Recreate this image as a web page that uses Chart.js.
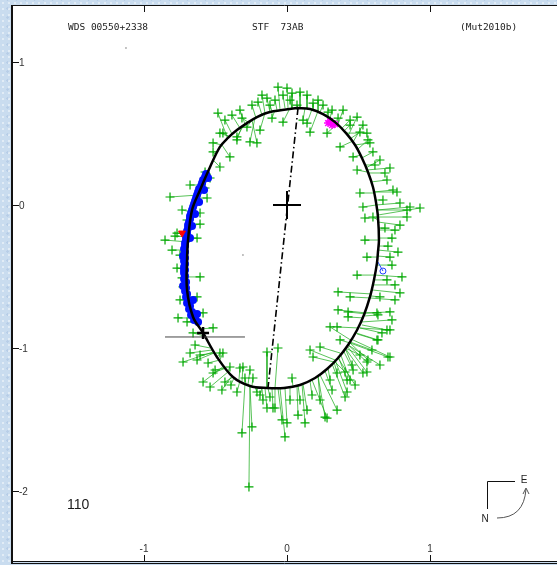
<!DOCTYPE html>
<html>
<head>
<meta charset="utf-8">
<title>STF 73AB orbit</title>
<script src="https://cdn.jsdelivr.net/npm/chart.js@4.4.0/dist/chart.umd.min.js"></script>
<style>
html, body { margin: 0; padding: 0; }
body {
    width: 557px; height: 565px; overflow: hidden;
    background-color: #c9dcef;
    background-image: radial-gradient(rgba(255,255,255,0.45) 1px, transparent 1.5px),
                      radial-gradient(rgba(150,180,215,0.35) 1px, transparent 1.5px);
    background-size: 6px 6px, 9px 9px;
    background-position: 0 0, 3px 4px;
}
#wrap { position: relative; width: 557px; height: 565px; }
</style>
</head>
<body>
<div id="wrap"><canvas id="orbit-chart" width="557" height="565"></canvas></div>
<script>
// tick values (arcsec)
var xTicks = [-1, 0, 1];
var yTicks = [1, 0, -1, -2];

// fitted orbit
var orbitX = [0.070, 0.161, 0.252, 0.336, 0.413, 0.476, 0.524, 0.566, 0.601, 0.622, 0.636, 0.643, 0.636, 0.629,
              0.608, 0.580, 0.538, 0.490, 0.427, 0.357, 0.280, 0.196, 0.091, -0.021, -0.140, -0.259, -0.378,
              -0.490, -0.587, -0.657, -0.699, -0.699, -0.692, -0.664, -0.608, -0.538, -0.469, -0.413, -0.350,
              -0.280, -0.210, -0.119, 0.070];
var orbitY = [0.678, 0.671, 0.636, 0.580, 0.503, 0.420, 0.329, 0.231, 0.126, 0.021, -0.084, -0.245, -0.329, -0.406,
              -0.524, -0.643, -0.769, -0.874, -0.979, -1.070, -1.147, -1.210, -1.259, -1.280, -1.280, -1.266, -1.203,
              -1.063, -0.895, -0.783, -0.594, -0.385, -0.245, -0.035, 0.105, 0.266, 0.406, 0.469, 0.524,
              0.573, 0.615, 0.650, 0.678];

// micrometer observations (green) and where they fall on the orbit
var obsX = [-0.483, -0.385, -0.315, -0.203, -0.140, -0.063, -0.028, 0.035, 0.091, 0.140,
            0.182, 0.252, 0.315, 0.392, 0.490, 0.531, 0.566, 0.601, 0.650, 0.699,
            0.741, 0.790, 0.860, 0.930, 0.790, 0.601, 0.531, 0.510, 0.490, 0.462,
            0.371, 0.280, 0.161, 0.140, -0.028, -0.105, -0.189, -0.259, -0.350, -0.448,
            -0.517, -0.469, -0.399, -0.210, -0.280,
            -0.517, -0.469, -0.350, -0.538, -0.573, -0.818, -0.559, -0.734, -0.608, -0.699,
            -0.608, -0.769, -0.853, -0.783, -0.629, -0.748, -0.769, -0.734, -0.608, -0.727,
            -0.629, -0.587, -0.762, -0.699, -0.517, -0.657, -0.678, -0.727, -0.629, -0.608,
            -0.469, -0.552, -0.517, -0.587, -0.538, -0.455, -0.434, -0.329, -0.259, -0.238,
            -0.350, -0.140, -0.448, -0.399, -0.308,
            -0.063, -0.210, -0.119, -0.168, -0.098, -0.140, -0.035, -0.014, 0.000, -0.315,
            -0.245, -0.266, 0.035,
            0.091, 0.140, 0.231,
            0.280, 0.301, 0.350, 0.350, 0.406, 0.420, 0.462, 0.531, 0.559, 0.720,
            0.629, 0.699, 0.301, 0.371, 0.231, 0.161, 0.182, -0.084,
            0.126, 0.077, 0.266, 0.420,
            0.790, 0.720, 0.664, 0.706, 0.566, 0.559,
            0.455, 0.441, 0.650, 0.441, 0.629,
            0.427, 0.699, 0.559, 0.580, 0.685,
            0.769, 0.671, 0.839, 0.839, 0.685, 0.545,
            0.734, 0.776, 0.720,
            0.559, 0.490, 0.804, 0.755, 0.357,
            0.357, 0.427, 0.636, 0.350, 0.441, 0.021, -0.119, 0.217, -0.573,
            -0.434, -0.329, -0.245, -0.175, -0.084, 0.000, 0.070, 0.112, 0.287, 0.357,
            0.441, 0.510, 0.615, 0.720,
            0.755, 0.720, 0.734, 0.636, 0.594, 0.510, 0.650, 0.476, 0.406, 0.315,
            0.175, 0.021, -0.189, -0.294, -0.392, -0.503, -0.643, -0.748, -0.804, -0.678,
            0.755, 0.706, 0.545, 0.734];
var obsY = [0.643, 0.629, 0.608, 0.720, 0.748, 0.825, 0.769, 0.783, 0.790, 0.769,
            0.713, 0.699, 0.664, 0.664, 0.615, 0.559, 0.455, 0.371, 0.315, 0.175,
            0.105, 0.014, -0.014, -0.021, -0.140, -0.084, -0.014, 0.084, 0.245, 0.336,
            0.406, 0.503, 0.510, 0.573, 0.580, 0.608, 0.524, 0.441, 0.476, 0.503,
            0.434, 0.266, 0.336, 0.434, 0.545,
            0.371, 0.503, 0.455, 0.189, 0.119, 0.056, 0.049, -0.035, -0.056, -0.105,
            -0.133, -0.196, -0.245, -0.217, -0.231, -0.350, -0.441, -0.510, -0.503, -0.573,
            -0.643, -0.755, -0.790, -0.818, -0.860, -0.895, -1.035, -1.098, -1.084, -1.049,
            -1.035, -1.105, -1.175, -1.238, -1.273, -1.294, -1.238, -1.140, -1.154, -1.210,
            -1.308, -1.028, -1.035, -1.133, -1.133,
            -1.000, -1.308, -1.343, -1.364, -1.420, -1.420, -1.503, -1.622, -1.524, -1.594,
            -1.552, -1.972, -1.210,
            -1.364, -1.434, -1.364,
            -1.490, -1.224, -1.175, -1.434, -1.343, -1.224, -1.154, -1.175, -1.098, -1.063,
            -0.944, -0.874, -0.853, -0.944, -0.993, -1.014, -1.063, -1.420,
            -1.524, -1.469, -1.483, -1.308,
            -0.615, -0.874, -0.895, -1.063, -1.084, -1.168,
            -1.119, -1.224, -0.643, -0.643, -0.755,
            -0.748, -0.524, 0.503, 0.434, 0.224,
            0.091, 0.035, -0.035, -0.084, -0.161, -0.091,
            -0.231, -0.329, -0.364,
            -0.364, -0.490, -0.503, -0.559, -0.608,
            -0.734, -0.783, -0.769, -0.853, 0.594, 0.734, 0.699, 0.734, 0.231,
            0.594, 0.664, 0.699, 0.769, 0.734, 0.818, 0.699, 0.594, 0.650, 0.608,
            0.559, 0.510, 0.280, 0.259,
            -0.664, -0.748, -0.804, -0.944, -1.014, -1.049, -1.119, -1.259, -1.168, -1.294,
            -1.329, -1.364, -1.329, -1.210, -1.259, -1.154, -0.979, -0.664, -0.315, 0.140,
            -0.175, -0.287, -0.245, -0.420];
var fitX = [-0.413, -0.329, -0.273, -0.175, -0.119, -0.049, -0.014, 0.035, 0.091, 0.140,
            0.182, 0.231, 0.301, 0.357, 0.427, 0.462, 0.497, 0.524, 0.552, 0.587,
            0.608, 0.622, 0.629, 0.636, 0.636, 0.636, 0.622, 0.608, 0.559, 0.517,
            0.462, 0.350, 0.217, 0.175, 0.021, -0.084, -0.154, -0.224, -0.294, -0.399,
            -0.455, -0.517, -0.455, -0.245, -0.245,
            -0.497, -0.399, -0.315, -0.559, -0.601, -0.622, -0.629, -0.664, -0.671, -0.678,
            -0.678, -0.692, -0.692, -0.692, -0.692, -0.699, -0.699, -0.699, -0.699, -0.699,
            -0.692, -0.671, -0.657, -0.643, -0.608, -0.580, -0.524, -0.517, -0.510, -0.510,
            -0.483, -0.469, -0.427, -0.441, -0.413, -0.385, -0.378, -0.336, -0.273, -0.245,
            -0.329, -0.140, -0.469, -0.413, -0.315,
            -0.084, -0.224, -0.133, -0.175, -0.105, -0.154, -0.063, -0.049, -0.014, -0.294,
            -0.259, -0.259, 0.042,
            0.077, 0.112, 0.217,
            0.175, 0.287, 0.329, 0.231, 0.315, 0.357, 0.392, 0.406, 0.427, 0.462,
            0.490, 0.524, 0.455, 0.441, 0.371, 0.336, 0.329, -0.084,
            0.105, 0.070, 0.217, 0.336,
            0.594, 0.510, 0.510, 0.441, 0.441, 0.420,
            0.406, 0.371, 0.587, 0.580, 0.552,
            0.552, 0.608, 0.413, 0.476, 0.566,
            0.608, 0.615, 0.629, 0.636, 0.636, 0.636,
            0.643, 0.636, 0.636,
            0.636, 0.615, 0.615, 0.601, 0.587,
            0.552, 0.538, 0.545, 0.497, 0.385, 0.035, -0.105, 0.217, -0.552,
            -0.385, -0.294, -0.217, -0.154, -0.070, 0.007, 0.077, 0.126, 0.273, 0.336,
            0.399, 0.441, 0.545, 0.559,
            0.580, 0.552, 0.524, 0.483, 0.441, 0.406, 0.427, 0.357, 0.336, 0.266,
            0.161, 0.021, -0.175, -0.287, -0.371, -0.434, -0.538, -0.692, -0.699, -0.594,
            0.643, 0.643, 0.643, 0.629];
var fitY = [0.462, 0.538, 0.580, 0.629, 0.650, 0.671, 0.678, 0.678, 0.678, 0.678,
            0.671, 0.650, 0.608, 0.566, 0.483, 0.441, 0.392, 0.329, 0.259, 0.161,
            0.091, 0.000, -0.035, -0.070, -0.119, -0.105, 0.000, 0.084, 0.231, 0.350,
            0.448, 0.566, 0.657, 0.671, 0.678, 0.664, 0.643, 0.608, 0.573, 0.476,
            0.420, 0.315, 0.420, 0.594, 0.594,
            0.350, 0.476, 0.552, 0.210, 0.119, 0.070, 0.049, -0.049, -0.070, -0.119,
            -0.147, -0.210, -0.259, -0.224, -0.231, -0.364, -0.455, -0.524, -0.503, -0.580,
            -0.643, -0.748, -0.790, -0.818, -0.867, -0.916, -1.014, -1.028, -1.035, -1.035,
            -1.056, -1.084, -1.140, -1.126, -1.168, -1.196, -1.203, -1.224, -1.259, -1.266,
            -1.231, -1.280, -1.084, -1.161, -1.238,
            -1.280, -1.273, -1.280, -1.280, -1.280, -1.280, -1.280, -1.280, -1.280, -1.252,
            -1.266, -1.266, -1.273,
            -1.259, -1.252, -1.196,
            -1.224, -1.140, -1.098, -1.189, -1.112, -1.056, -1.014, -1.000, -0.979, -0.944,
            -0.902, -0.839, -0.951, -0.965, -1.035, -1.084, -1.098, -1.280,
            -1.252, -1.266, -1.196, -1.084,
            -0.594, -0.860, -0.860, -0.965, -0.965, -0.986,
            -1.000, -1.035, -0.636, -0.650, -0.755,
            -0.762, -0.524, 0.503, 0.420, 0.224,
            0.091, 0.035, -0.035, -0.084, -0.161, -0.091,
            -0.231, -0.315, -0.357,
            -0.364, -0.490, -0.490, -0.559, -0.622,
            -0.755, -0.790, -0.776, -0.860, 0.538, 0.678, 0.657, 0.657, 0.231,
            0.497, 0.566, 0.608, 0.643, 0.664, 0.678, 0.678, 0.678, 0.622, 0.580,
            0.517, 0.462, 0.280, 0.245,
            -0.650, -0.755, -0.818, -0.895, -0.958, -1.000, -0.979, -1.070, -1.098, -1.161,
            -1.231, -1.280, -1.280, -1.252, -1.210, -1.140, -1.000, -0.664, -0.315, 0.140,
            -0.175, -0.287, -0.245, -0.420];

// interferometric measures (blue)
var speckleX = [-0.566, -0.587, -0.601, -0.622, -0.636, -0.650, -0.664, -0.678, -0.685, -0.692, -0.699, -0.706, -0.713,
                -0.713, -0.713, -0.713, -0.713, -0.713, -0.706, -0.706, -0.699, -0.692, -0.678, -0.664, -0.643, -0.622,
                -0.552, -0.580, -0.615, -0.643, -0.664, -0.678, -0.727, -0.727, -0.720, -0.657, -0.629,
                -0.573, -0.594, -0.615, -0.629, -0.643, -0.657, -0.671, -0.678, -0.692, -0.699, -0.706, -0.713, -0.720,
                -0.720, -0.720, -0.720, -0.720, -0.720, -0.713, -0.713, -0.706, -0.699, -0.685, -0.671, -0.650];
var speckleY = [0.217, 0.175, 0.133, 0.091, 0.049, 0.007, -0.035, -0.077, -0.119, -0.161, -0.203, -0.245, -0.287,
                -0.329, -0.371, -0.413, -0.455, -0.497, -0.538, -0.580, -0.622, -0.664, -0.706, -0.748, -0.790, -0.818,
                0.189, 0.105, 0.021, -0.063, -0.147, -0.231, -0.357, -0.566, -0.455, -0.664, -0.762,
                0.196, 0.154, 0.112, 0.070, 0.028, -0.014, -0.056, -0.098, -0.140, -0.182, -0.224, -0.266, -0.308,
                -0.350, -0.392, -0.434, -0.476, -0.517, -0.559, -0.601, -0.643, -0.685, -0.727, -0.769, -0.804];

// other measure types
var redX = [-0.734], redY = [-0.196];
var pinkX = [0.287, 0.315, 0.301, 0.336], pinkY = [0.573, 0.559, 0.587, 0.566];
var ringX = [0.671], ringY = [-0.462];
var ringFitX = [0.636], ringFitY = [-0.399];

// primary, periastron, line of apsides
var primaryX = [0], primaryY = [0];
var periX = [-0.587], periY = [-0.895];
var periBarX = [-0.853, -0.294], periBarY = [-0.923, -0.923];
var apsX = [0.077, -0.133], apsY = [0.678, -1.280];
var dotX = [-1.126, -0.308], dotY = [1.098, -0.350];

function pts(xs, ys) {
    return xs.map(function (x, i) { return { x: x, y: ys[i] }; });
}

var residuals = [];
for (var i = 0; i < Math.min(obsX.length, fitX.length); i++) {
    residuals.push({ x: obsX[i], y: obsY[i] });
    residuals.push({ x: fitX[i], y: fitY[i] });
    residuals.push({ x: NaN, y: NaN });
}
var ringLine = pts(ringX, ringY).concat(pts(ringFitX, ringFitY));

var framePlugin = {
    id: 'frame',
    beforeDraw: function (chart) {
        var ctx = chart.ctx, a = chart.chartArea;
        ctx.save();
        ctx.fillStyle = '#ffffff';
        ctx.fillRect(a.left, a.top, a.right - a.left, a.bottom - a.top);
        ctx.restore();
    },
    afterDraw: function (chart) {
        var ctx = chart.ctx;
        var xs = chart.scales.x, ys = chart.scales.y;
        ctx.save();
        ctx.strokeStyle = '#111';
        ctx.fillStyle = '#333';

        // frame
        ctx.beginPath();
        ctx.lineWidth = 2;
        ctx.moveTo(12, 5); ctx.lineTo(12, 564);
        ctx.stroke();
        ctx.lineWidth = 1;
        ctx.beginPath();
        ctx.moveTo(12, 5.5); ctx.lineTo(557, 5.5);
        ctx.moveTo(12, 561.5); ctx.lineTo(557, 561.5);
        ctx.moveTo(12, 563.5); ctx.lineTo(557, 563.5);
        ctx.stroke();

        // ticks
        ctx.font = '10px "Liberation Sans", Arial, sans-serif';
        ctx.beginPath();
        yTicks.forEach(function (v) {
            var p = Math.round(ys.getPixelForValue(v)) + 0.5;
            ctx.moveTo(13, p); ctx.lineTo(19, p);
        });
        xTicks.forEach(function (v) {
            var p = Math.round(xs.getPixelForValue(v)) + 0.5;
            ctx.moveTo(p, 6); ctx.lineTo(p, 12);
            ctx.moveTo(p, 561); ctx.lineTo(p, 555);
        });
        ctx.stroke();
        ctx.textBaseline = 'middle';
        ctx.textAlign = 'left';
        yTicks.forEach(function (v) {
            ctx.fillText(String(v), 19, ys.getPixelForValue(v) + 1);
        });
        ctx.textAlign = 'center';
        xTicks.forEach(function (v) {
            ctx.fillText(String(v), xs.getPixelForValue(v), 549);
        });

        // header
        ctx.fillStyle = '#222';
        ctx.font = '9.5px "DejaVu Sans Mono", monospace';
        ctx.textAlign = 'left';
        ctx.fillText('WDS 00550+2338', 68, 28);
        ctx.fillText('STF  73AB', 252, 28);
        ctx.fillText('(Mut2010b)', 460, 28);

        ctx.font = '14px "Liberation Sans", Arial, sans-serif';
        ctx.fillStyle = '#1a1a1a';
        ctx.fillText('110', 67, 505);

        // compass
        ctx.strokeStyle = '#111';
        ctx.beginPath();
        ctx.moveTo(487.5, 481.5); ctx.lineTo(515, 481.5);
        ctx.moveTo(487.5, 481.5); ctx.lineTo(487.5, 509);
        ctx.stroke();
        ctx.font = '10px "Liberation Sans", Arial, sans-serif';
        ctx.textAlign = 'center';
        ctx.fillStyle = '#222';
        ctx.fillText('E', 524, 480);
        ctx.fillText('N', 485, 519);
        ctx.strokeStyle = '#555';
        ctx.beginPath();
        ctx.moveTo(497, 518);
        ctx.quadraticCurveTo(524, 518, 526, 489);
        ctx.moveTo(523, 494); ctx.lineTo(526, 488); ctx.lineTo(529, 494);
        ctx.stroke();
        ctx.restore();
    }
};

new Chart(document.getElementById('orbit-chart'), {
    type: 'scatter',
    data: {
        datasets: [
            { data: pts(primaryX, primaryY), pointStyle: 'cross', pointRadius: 14, borderColor: '#000', borderWidth: 2 },
            { data: pts(periX, periY), pointStyle: 'cross', pointRadius: 6, borderColor: '#000', borderWidth: 2.5 },
            { data: pts(periBarX, periBarY), showLine: true, pointRadius: 0, borderColor: '#444', borderWidth: 1 },
            { data: pts(apsX, apsY), showLine: true, pointRadius: 0, borderColor: '#000', borderWidth: 1.6, borderDash: [7, 3, 1.5, 3] },
            { data: pts(orbitX, orbitY), showLine: true, tension: 0.35, pointRadius: 0, borderColor: '#000', borderWidth: 2.5 },
            { data: pts(dotX, dotY), pointStyle: 'rect', pointRadius: 0.8, backgroundColor: '#333', borderWidth: 0 },
            { data: pts(redX, redY), pointStyle: 'triangle', rotation: 180, pointRadius: 4, backgroundColor: '#ff0000', borderColor: '#ff0000', borderWidth: 1 },
            { data: pts(pinkX, pinkY), pointStyle: 'star', pointRadius: 4, borderColor: '#ff00ff', borderWidth: 1.5 },
            { data: pts(ringX, ringY), pointStyle: 'circle', pointRadius: 3, backgroundColor: 'rgba(0,0,0,0)', borderColor: '#2040ff', borderWidth: 1 },
            { data: ringLine, showLine: true, pointRadius: 0, borderColor: '#2040ff', borderWidth: 1 },
            { data: pts(speckleX, speckleY), pointStyle: 'circle', pointRadius: 4, backgroundColor: '#0010ff', borderColor: '#0010ff', borderWidth: 0 },
            { data: pts(obsX, obsY), pointStyle: 'cross', pointRadius: 4.5, borderColor: '#00a800', borderWidth: 1.2 },
            { data: residuals, showLine: true, spanGaps: false, pointRadius: 0, borderColor: 'rgba(20,170,20,0.7)', borderWidth: 1 }
        ]
    },
    options: {
        responsive: false,
        animation: false,
        layout: { autoPadding: false, padding: { left: 13, top: 6, right: 0, bottom: 4 } },
        scales: {
            x: { type: 'linear', min: -1.916, max: 1.888, display: false },
            y: { type: 'linear', min: -2.490, max: 1.392, display: false }
        },
        plugins: { legend: { display: false }, tooltip: { enabled: false } }
    },
    plugins: [framePlugin]
});
</script>
</body>
</html>
